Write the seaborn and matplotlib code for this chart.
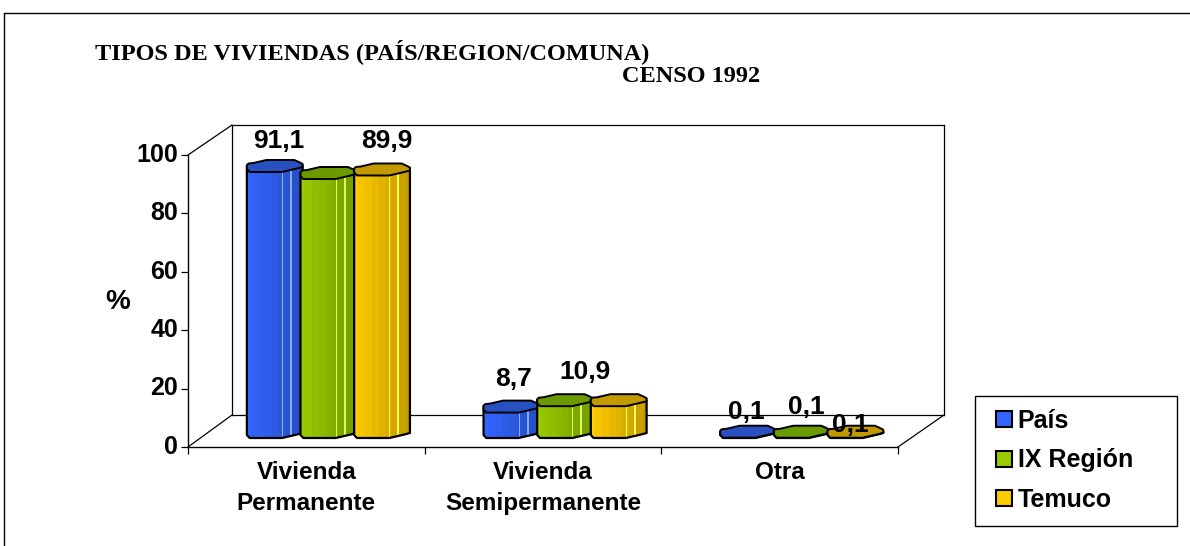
import numpy as np
import pandas as pd
import matplotlib
matplotlib.use('Agg')
import matplotlib.pyplot as plt
import seaborn as sns
from matplotlib.lines import Line2D
from matplotlib.patches import Polygon, Rectangle
from matplotlib.colors import to_rgb
from matplotlib.transforms import ScaledTranslation

# Values
categories = ['Vivienda\nPermanente', 'Vivienda\nSemipermanente', 'Otra']
series = ['País', 'IX Región', 'Temuco']
pais = [91.1, 8.7, 0.1]
ix_region = [88.7, 10.9, 0.1]
temuco = [89.9, 10.9, 0.1]
# labels that are actually printed on the chart (some are missing in the original)
labels_pais = ['91,1', '8,7', '0,1']
labels_ix = [None, None, '0,1']
labels_temuco = ['89,9', '10,9', '0,1']
y_ticks = [0, 20, 40, 60, 80, 100]

colors = ['#3366FF', '#99CC00', '#FFCC00']
top_colors = ['#2850C0', '#6B9900', '#C29900']

W, H = 1190, 546
SANS = 'Liberation Sans'
SERIF = 'Liberation Serif'

sns.set_theme(style='white')
plt.rcParams['font.family'] = SANS
plt.rcParams['text.color'] = 'black'


def box(x0, y_top, x1, y_bottom):
    # pixel box to figure fraction
    return [x0 / W, 1 - y_bottom / H, (x1 - x0) / W, (y_bottom - y_top) / H]


def fig_line(x0, y0, x1, y1, lw=1.0):
    fig.add_artist(Line2D([x0 / W, x1 / W], [1 - y0 / H, 1 - y1 / H], color='black', lw=lw))


fig = plt.figure(figsize=(W / 100, H / 100), dpi=100, facecolor='white')

# outer border is only there on the top and left
fig_line(4, 13, 1190, 13)
fig_line(4, 13, 4, 546)

# back wall
back = fig.add_axes(box(232, 125, 944, 415))
back.set_xticks([])
back.set_yticks([])
for s in back.spines.values():
    s.set_color('black')
    s.set_linewidth(0.9)

# side wall and floor edges
fig_line(188, 155, 232, 125, 0.9)
fig_line(188, 447, 232, 415, 0.9)
fig_line(898, 447, 944, 415, 0.9)

# front plane carries the axes and tick labels
ax = fig.add_axes(box(188, 155, 898, 447))
ax.patch.set_alpha(0)
ax.set_xlim(0, 3)
ax.set_ylim(0, 100)
ax.spines['top'].set_visible(False)
ax.spines['right'].set_visible(False)
for s in ['left', 'bottom']:
    ax.spines[s].set_color('black')
    ax.spines[s].set_linewidth(1.0)
ax.set_yticks(y_ticks)
ax.set_yticklabels([str(v) for v in y_ticks], fontsize=18, fontweight='bold', color='black')
ax.set_xticks([0, 1, 2, 3])
ax.set_xticklabels([])
ax.tick_params(axis='both', which='major', length=5, width=0.9, color='black',
               left=True, bottom=True, pad=2)
ax.set_xticks([0.5, 1.5, 2.5], minor=True)
ax.set_xticklabels(categories, minor=True, fontsize=17.5, fontweight='bold', color='black',
                   linespacing=1.45)
ax.tick_params(axis='x', which='minor', length=0, pad=10)
for lab in ax.get_yticklabels():
    lab.set_transform(lab.get_transform() + ScaledTranslation(0, 2 / 72, fig.dpi_scale_trans))

# bars sit half way into the depth of the box, y range runs below zero for the rounded base
ZERO_PAD = 5
ax_bars = fig.add_axes(box(209, 140, 919, 432 + ZERO_PAD * 2.92))
ax_bars.patch.set_alpha(0)

df = pd.DataFrame({
    'categoria': categories * 3,
    'serie': np.repeat(series, 3),
    'valor': pais + ix_region + temuco,
})
sns.barplot(data=df, x='categoria', y='valor', hue='serie', hue_order=series,
            palette=colors, saturation=1, width=0.68, gap=0, edgecolor='black', linewidth=1.5,
            errorbar=None, ax=ax_bars)
ax_bars.set_xlim(-0.5, 2.5)
ax_bars.set_ylim(-ZERO_PAD, 100)
ax_bars.set_xlabel('')
ax_bars.set_ylabel('')
ax_bars.set_xticks([])
ax_bars.set_yticks([])
sns.despine(ax=ax_bars, left=True, bottom=True)

# legend box is drawn by hand because its padding is uneven
fig.add_artist(Rectangle((975 / W, 1 - 526 / H), 202 / W, 130 / H, transform=fig.transFigure,
                         facecolor='white', edgecolor='black', lw=1.0, zorder=-1))
sns.move_legend(ax_bars, 'upper left', bbox_to_anchor=(996 / W, 1 - 409 / H),
                bbox_transform=fig.transFigure, title=None, frameon=False,
                prop=dict(family=SANS, weight='bold', size=18),
                handlelength=0.62, handleheight=0.62, handletextpad=0.25, labelspacing=0.62,
                borderpad=0, borderaxespad=0)

# px -> data
UNIT_Y = 100 / 292
# outline of the octagonal column, as (fraction of width, px above centre)
cap_top = [(0.0, 1), (0.03, 2.5), (0.12, 3), (0.35, 6), (0.85, 6), (0.93, 4), (1.0, 2)]
cap_bottom = [(1.0, -1), (0.9, -2.5), (0.63, -6), (0.05, -6), (0.0, -3)]

for k, cont in enumerate(ax_bars.containers):
    base = np.array(to_rgb(colors[k]))
    shade = np.array([base * (1 - 0.24 * np.round(i / 39 * 8) / 8) for i in range(40)])
    shade[25] = np.clip(shade[25] + 0.35, 0, 1)
    shade[31] = np.clip(shade[31] + 0.35, 0, 1)
    shade = shade[np.newaxis, :, :]
    for bar in cont:
        bar.set_visible(False)
        x0, w, h = bar.get_x(), bar.get_width(), bar.get_height()
        wider = w * 1.04
        z = 3 + k
        body_pts = ([(x0 + wider, h)]
                    + [(x0 + f * wider, d * UNIT_Y) for f, d in cap_bottom]
                    + [(x0, h)])
        body = Polygon(body_pts, closed=True, facecolor='none', edgecolor='black', lw=1.6,
                       joinstyle='round', zorder=z + 0.2, clip_on=False)
        ax_bars.add_patch(body)
        im = ax_bars.imshow(shade, extent=(x0, x0 + wider, -ZERO_PAD, max(h, 1) + 2), aspect='auto',
                            interpolation='nearest', zorder=z + 0.1)
        im.set_clip_path(body)
        cap_pts = [(x0 + f * wider, h + d * UNIT_Y) for f, d in cap_top + cap_bottom]
        ax_bars.add_patch(Polygon(cap_pts, closed=True, facecolor=top_colors[k], edgecolor='black',
                                  lw=1.4, joinstyle='round', zorder=z + 0.3, clip_on=False))
ax_bars.set_xlim(-0.5, 2.5)
ax_bars.set_ylim(-ZERO_PAD, 100)

# value labels, offset from the top of their bar as in the original
offsets_pais = [(5, 25), (3, 28), (-1, 20)]
offsets_ix = [None, None, (6, 25)]
offsets_temuco = [(6, 28), (-33, 28), (-4, 7)]
for k, (labs, offs) in enumerate(zip([labels_pais, labels_ix, labels_temuco],
                                     [offsets_pais, offsets_ix, offsets_temuco])):
    for bar, lab, off in zip(ax_bars.containers[k], labs, offs):
        if lab is None:
            continue
        ax_bars.annotate(lab, (bar.get_x() + bar.get_width() / 2, bar.get_height()),
                         xytext=(off[0] * 0.72, off[1] * 0.72), textcoords='offset points',
                         ha='center', va='center', fontsize=19, fontweight='bold', color='black',
                         zorder=10, annotation_clip=False)

# titles
fig.text(95 / W, 1 - 52 / H, 'TIPOS DE VIVIENDAS (PAÍS/REGION/COMUNA)', family=SERIF, fontweight='bold',
         fontsize=17.5, color='black', va='center', ha='left')
fig.text(622 / W, 1 - 76 / H, 'CENSO 1992', family=SERIF, fontweight='bold',
         fontsize=17.5, color='black', va='center', ha='left')
fig.text(118 / W, 1 - 302 / H, '%', fontweight='bold', fontsize=20, color='black', va='center', ha='center')

fig.savefig('out.png', dpi=100, facecolor='white')
